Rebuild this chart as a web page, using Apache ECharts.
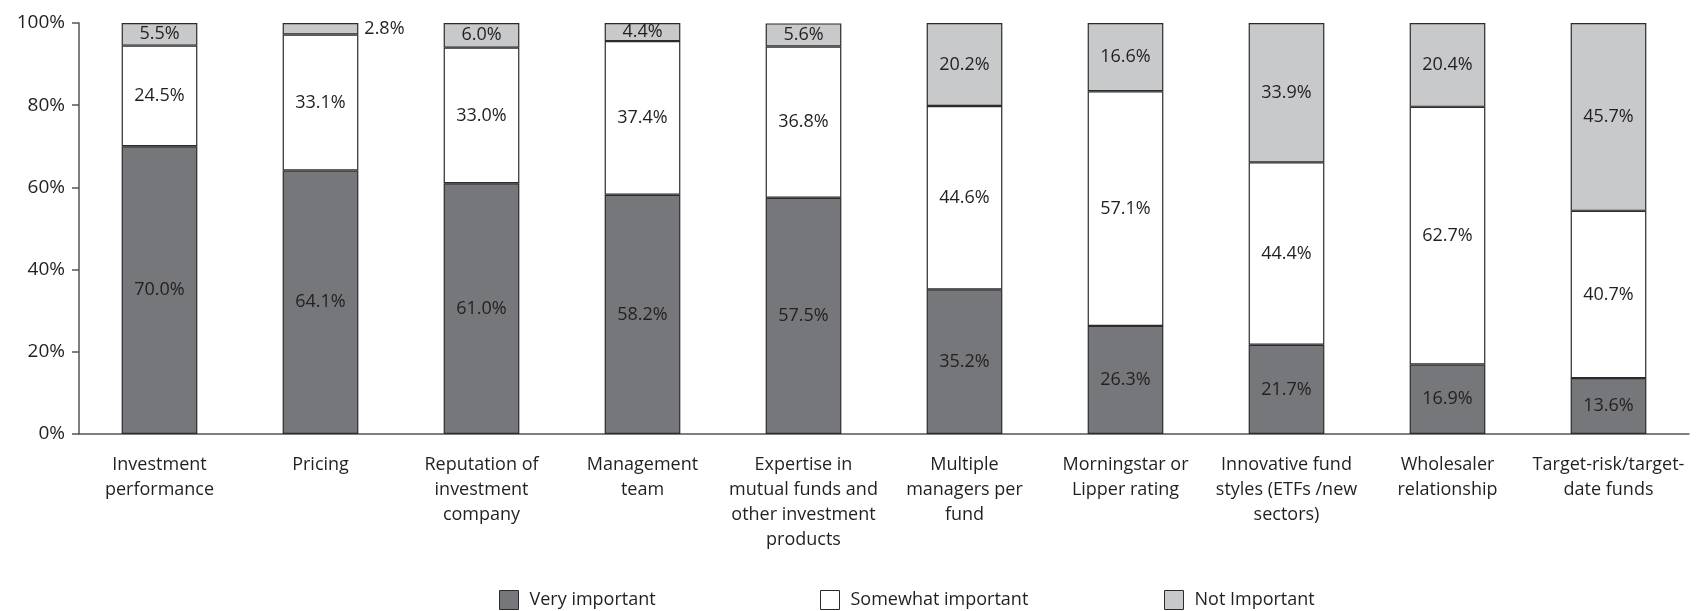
<!DOCTYPE html>
<html>
<head>
<meta charset="utf-8">
<script src="https://cdn.jsdelivr.net/npm/echarts@6/dist/echarts.min.js"></script>
<style>
  html, body { margin: 0; padding: 0; background: #fff; }
  #chart { width: 1696px; height: 611px; }
</style>
</head>
<body>
<div id="chart"></div>
<script>
// Stacked 100% bars: importance of fund-selection factors.
const categories = [
  'Investment\nperformance',
  'Pricing',
  'Reputation of\ninvestment\ncompany',
  'Management\nteam',
  'Expertise in\nmutual funds and\nother investment\nproducts',
  'Multiple\nmanagers per\nfund',
  'Morningstar or\nLipper rating',
  'Innovative fund\nstyles (ETFs /new\nsectors)',
  'Wholesaler\nrelationship',
  'Target-risk/target-\ndate funds'
];
const veryImportant = [70.0, 64.1, 61.0, 58.2, 57.5, 35.2, 26.3, 21.7, 16.9, 13.6];
const somewhatImportant = [24.5, 33.1, 33.0, 37.4, 36.8, 44.6, 57.1, 44.4, 62.7, 40.7];
const notImportant = [5.5, 2.8, 6.0, 4.4, 5.6, 20.2, 16.6, 33.9, 20.4, 45.7];
const yTicks = [0, 20, 40, 60, 80, 100];

const FONT = 'Open Sans';
const INK = '#231f20';
const BORDER = '#2b2b2b';
const COLORS = ['#76777a', '#ffffff', '#c8c9cb'];

const chart = echarts.init(document.getElementById('chart'));

function barSeries(name, data, color) {
  return {
    name: name,
    type: 'bar',
    stack: 'total',
    barWidth: '47%',
    data: data,
    itemStyle: { color: color, borderColor: BORDER, borderWidth: 1.2 },
    label: {
      show: true,
      position: 'inside',
      formatter: (p) => p.value.toFixed(1) + '%',
      color: INK,
      fontFamily: FONT,
      fontSize: 18
    },
    emphasis: { disabled: true }
  };
}

// the thin 2.8% slice gets its label outside on the right
const notData = notImportant.map((v) => (v < 3
  ? { value: v, label: { position: 'right', distance: 6 } }
  : v));

function legendAt(left, name, color) {
  return {
    data: [{ name: name, icon: 'rect', itemStyle: { color: color, borderColor: BORDER, borderWidth: 1 } }],
    left: left,
    top: 585,
    itemWidth: 19,
    itemHeight: 19,
    itemGap: 0,
    textStyle: { fontFamily: FONT, fontSize: 18, color: INK, padding: [0, 0, 0, 6] },
    selectedMode: false
  };
}

chart.setOption({
  animation: false,
  textStyle: { fontFamily: FONT },
  grid: { left: 79, right: 7, top: 23, bottom: 177 },
  legend: [
    legendAt(494, 'Very important', COLORS[0]),
    legendAt(815, 'Somewhat important', COLORS[1]),
    legendAt(1159, 'Not Important', COLORS[2])
  ],
  xAxis: {
    type: 'category',
    data: categories,
    axisLine: { lineStyle: { color: '#555', width: 1.5 } },
    axisTick: { length: 8, lineStyle: { color: '#555', width: 1.5 } },
    axisLabel: {
      interval: 0,
      margin: 18,
      color: INK,
      fontFamily: FONT,
      fontSize: 18,
      lineHeight: 25
    }
  },
  yAxis: {
    type: 'value',
    min: 0,
    max: 100,
    interval: 20,
    axisLine: { show: true, lineStyle: { color: '#555', width: 1.5 } },
    axisTick: { show: true, length: 7, lineStyle: { color: '#555', width: 1.5 } },
    splitLine: { show: false },
    axisLabel: {
      margin: 14,
      color: INK,
      fontFamily: FONT,
      fontSize: 19,
      formatter: (v) => (yTicks.includes(v) ? v + '%' : '')
    }
  },
  series: [
    barSeries('Very important', veryImportant, COLORS[0]),
    barSeries('Somewhat important', somewhatImportant, COLORS[1]),
    barSeries('Not Important', notData, COLORS[2])
  ]
});
</script>
</body>
</html>
